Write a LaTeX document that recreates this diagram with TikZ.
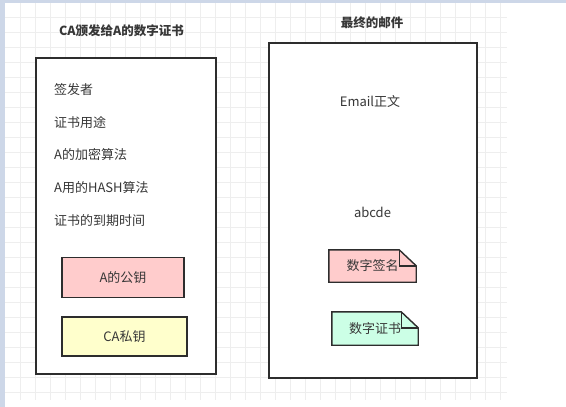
\documentclass[tikz,border=0pt]{standalone}
\usepackage{fontspec}
\setmainfont{Noto Sans CJK SC}
\usepackage{xcolor}
\usetikzlibrary{positioning}
\definecolor{linea}{RGB}{45,45,45}
\definecolor{texto}{RGB}{55,55,55}
\definecolor{rejilla}{RGB}{238,238,238}
\definecolor{borde}{RGB}{205,215,232}
\definecolor{rosa}{RGB}{255,204,204}
\definecolor{amarillo}{RGB}{255,255,204}
\definecolor{verde}{RGB}{204,255,230}

\begin{document}
\begin{tikzpicture}[
    x=1pt, y=-1pt,
    every node/.style={font=\fontsize{13}{15}\selectfont, text=texto, inner sep=0pt},
    marco/.style={rectangle, draw=linea, line width=1.6pt, fill=white},
    titulo/.style={font=\fontsize{12.5}{14}\selectfont\bfseries},
    campo/.style={anchor=west, text height=10pt, text depth=3pt},
    clave/.style={rectangle, draw=linea, line width=1.4pt, minimum width=122pt, minimum height=40pt},
    nota/.style={rectangle, minimum width=87pt, minimum height=32pt},
    pliegue/.style={draw=linea, line width=1.4pt, line join=miter}
]
\useasboundingbox (0,0) rectangle (566,407);

% Fondo
\fill[white] (0,0) rectangle (566,407);
\foreach \gx in {20,35,...,500} \draw[rejilla, line width=0.8pt] (\gx,3) -- (\gx,400);
\foreach \gy in {17,32,...,392} \draw[rejilla, line width=0.8pt] (5,\gy) -- (507,\gy);
\fill[borde] (0,0) rectangle (566,3);
\fill[borde] (0,0) rectangle (5,407);

% Nodos
\node[marco, minimum width=180pt, minimum height=316pt] (cert) at (126,216) {};
\node[marco, minimum width=208pt, minimum height=335pt] (mail) at (373,210.5) {};
\node[titulo] (tcert) at (121.5,31) {CA颁发给A的数字证书};
\node[titulo] (tmail) at (372,23) {最终的邮件};

\node[campo] (emisor) at (54,91) {签发者};
\node[campo, below=19.5pt of emisor.south west, anchor=north west] (uso) {证书用途};
\node[campo, below=19pt of uso.south west, anchor=north west] (cifrado) {A的加密算法};
\node[campo, below=19pt of cifrado.south west, anchor=north west] (hash) {A用的HASH算法};
\node[campo, below=19.5pt of hash.south west, anchor=north west] (caduca) {证书的到期时间};

\node[clave, fill=rosa] (pubA) at (123,277.5) {A的公钥};
\node[clave, fill=amarillo, minimum width=125pt, minimum height=39pt] (privCA) at (124.5,336.5) {CA私钥};

\node (cuerpo) at (370,102) {Email正文};
\node (abc) at (372.5,212) {abcde};

\node[nota] (firma) at (372.5,266) {};
\node[nota, minimum width=86pt, minimum height=33pt] (certif) at (375,328.5) {};
\foreach \n/\col in {firma/rosa, certif/verde} {
  \filldraw[pliegue, fill=\col] (\n.south west) -- (\n.north west) -- ([xshift=-17pt]\n.north east)
    -- ([yshift=-16pt]\n.north east) -- (\n.south east) -- cycle;
  \draw[pliegue] ([xshift=-17pt]\n.north east) |- ([yshift=-16pt]\n.north east);
}
\node at (firma) {数字签名};
\node at (certif) {数字证书};

\end{tikzpicture}
\end{document}
